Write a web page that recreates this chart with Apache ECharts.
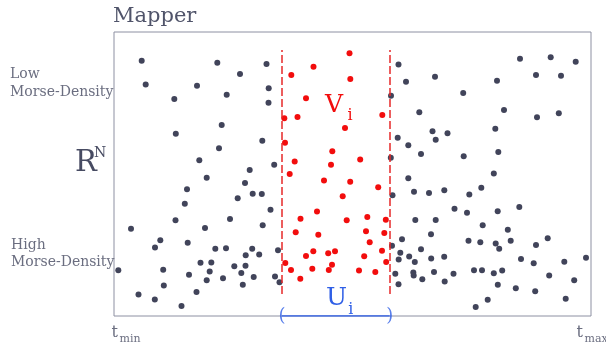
<!DOCTYPE html>
<html>
<head>
<meta charset="utf-8">
<title>Mapper</title>
<script src="https://cdn.jsdelivr.net/npm/echarts@6/dist/echarts.min.js"></script>
<style>
  html, body { margin: 0; padding: 0; background: #ffffff; }
  #chart { width: 606px; height: 347px; }
</style>
</head>
<body>
<div id="chart"></div>
<script>
// Filter value t along the horizontal axis, vertical position = Morse density (high at bottom).
const tRange = [0, 477];
const densityRange = [0, 284];

// Cover interval U_i on the t axis and the vertical extent of its pull-back V_i.
const intervalU = [168, 275.7];
const bandV = [22, 266];

// Axis end labels.
const tickLabels = ['t', 't'];
const tickSubs = ['min', 'max'];

// Points outside the pre-image of U_i  [t, density]
const outsidePoints = [
  [27.7, 255.3], [103.3, 253.3], [152.5, 252], [126, 242], [31.7, 231.5], [83, 230.3],
  [154.7, 227.7], [60.3, 217], [112.7, 221.3], [154.5, 213.3], [107.7, 191], [61.8, 182.3],
  [148.3, 175.3], [105, 167.8], [85.3, 155.8], [135.7, 146], [160.2, 151.3],
  [92.7, 138.3], [131, 133], [73, 126.7], [138.7, 122.3], [147.8, 122], [123.7, 117.7],
  [70.8, 112.2], [156.5, 106.3], [61.5, 95.8], [116, 97], [91, 88], [148.7, 90.7],
  [17, 87.2], [46.3, 75.7], [41, 68.5], [73.7, 73.3], [101.3, 67.3], [112, 67.7],
  [138.2, 67.3], [131.7, 60.8], [145.2, 61.5], [164, 65.7], [86.5, 53.3], [97.3, 53.5],
  [120.3, 49.8], [131.5, 50.3], [4.3, 45.7], [49.2, 46.3], [95.7, 44.5], [127.3, 43],
  [75, 41.2], [92.7, 35.7], [109, 37.7], [139.7, 39], [161, 39.4], [165.5, 33.7],
  [49.8, 30.5], [128.8, 31.3], [82.5, 24], [24.5, 21.5], [40.8, 16.5], [67.5, 10],
  [284.5, 251.5], [292, 234.2], [321, 239.3], [277, 220.3], [349.2, 223], [305.3, 203.7],
  [283.7, 178.3], [294.3, 170.8], [318.5, 184.8], [321.7, 176.3], [333.5, 182.8], [307, 162],
  [276.8, 158.2], [349.7, 159.7], [381.3, 187.3], [384.3, 164], [390, 206], [383, 235.3],
  [406, 257.2], [436.7, 258.8], [461.7, 254.3], [422, 241], [447, 240.3], [423, 198.7],
  [444.8, 202.8], [379.8, 142.5],
  [294.3, 137.8], [300, 124.3], [315, 123], [278.5, 120.8], [330.3, 125.8], [355.3, 121.5],
  [367.3, 128.2], [340.5, 107.2], [353, 103.3], [383.7, 104.7], [405.3, 109], [301.3, 96],
  [321.7, 96], [368.7, 90.8], [393.8, 86.3], [317, 81.8], [278, 70.2], [288, 76.7],
  [307, 66.8], [286.3, 63.2], [284.7, 56.5], [295.2, 59.5], [300.8, 54], [317.2, 57.5],
  [330.2, 59.2], [354.5, 75.3], [366.3, 73.7], [381.7, 72.5], [385.2, 67.3], [396.7, 75.3],
  [422, 71], [433.7, 77.8], [281.3, 42.2], [299.3, 43.5], [299.7, 40.5], [308.3, 36.8],
  [320, 44], [339.5, 42.2], [330.7, 34.5], [284.5, 31.7], [360, 45.7], [368, 45.7],
  [379.8, 42.8], [388.2, 45.5], [407, 57], [419.7, 52.7], [450.3, 54.2], [472, 58.3],
  [435.2, 40.5], [460.2, 35.8], [383.8, 31.3], [401.8, 27.8], [421.2, 24.8], [451.7, 17.2],
  [373.7, 16.3], [361.7, 9]
];

// Points whose filter value falls in U_i (they form V_i)  [t, density]
const coverPoints = [
  [235.5, 262.7], [199.5, 249.2], [177.3, 241], [236.3, 237], [192, 217.7], [170.3, 197.7],
  [183.5, 199], [268.3, 201], [231, 188], [171, 173.3], [218.3, 164.8], [180.7, 154.5],
  [217, 151.3], [246.2, 156.5], [175.7, 142], [210, 135.5], [236.2, 134.3], [264.2, 128.8],
  [228.7, 119.8], [203, 104.5], [186.5, 97.3], [232.7, 95.7], [253.3, 99], [271.8, 96.2],
  [181.7, 83.7], [204.3, 81.3], [252, 84.7], [270.3, 83], [255.7, 73.8], [199.3, 64.8],
  [221, 64.8], [214.2, 62.8], [268, 65.2], [192, 60], [250.2, 59.7], [171.3, 53],
  [218, 51.3], [272.2, 54], [177, 46], [198.3, 47.2], [214.8, 46], [245, 45.5],
  [261.3, 44], [186.3, 37.2]
];

const serif = '"DejaVu Serif", "Liberation Serif", serif';
const grey = '#6b6e80';
const red = '#f20d0d';
const blue = '#2f5fe6';

const chart = echarts.init(document.getElementById('chart'), null, { renderer: 'canvas' });

function txt(text, x, y, size, color) {
  return {
    type: 'text', silent: true,
    style: { text: text, x: x, y: y, font: size + 'px ' + serif, fill: color,
      verticalAlign: 'middle', align: 'left' }
  };
}

const uEnds = [[intervalU[0], densityRange[0]], [intervalU[1], densityRange[0]]];

chart.setOption({
  animation: false,
  backgroundColor: '#ffffff',
  grid: {
    left: 114, top: 32, width: 477, height: 284,
    show: true, borderColor: '#8d90a2', borderWidth: 1, backgroundColor: 'transparent'
  },
  xAxis: {
    type: 'value', min: tRange[0], max: tRange[1],
    axisLine: { show: false }, axisTick: { show: false }, axisLabel: { show: false },
    splitLine: { show: false }
  },
  yAxis: {
    type: 'value', min: densityRange[0], max: densityRange[1],
    axisLine: { show: false }, axisTick: { show: false }, axisLabel: { show: false },
    splitLine: { show: false }
  },
  series: [
    {
      type: 'scatter', name: 'outside', data: outsidePoints,
      symbolSize: 6, itemStyle: { color: '#41445a', opacity: 1 }, z: 3
    },
    {
      type: 'scatter', name: 'V_i', data: coverPoints,
      symbolSize: 6, itemStyle: { color: red, opacity: 1 }, z: 4,
      markLine: {
        silent: true, symbol: 'none', label: { show: false },
        lineStyle: { color: '#e62828', width: 1.5, type: [8, 3] },
        data: [
          [{ coord: [intervalU[0], bandV[0]] }, { coord: [intervalU[0], bandV[1]] }],
          [{ coord: [intervalU[1], bandV[0]] }, { coord: [intervalU[1], bandV[1]] }]
        ]
      }
    },
    {
      // interval U_i drawn on the t axis
      type: 'line', name: 'U_i', data: uEnds,
      symbol: 'none', lineStyle: { color: blue, width: 1.5 }, z: 5
    },
    {
      // round brackets closing U_i
      type: 'scatter', name: 'U_i ends', data: uEnds,
      symbolSize: 1, itemStyle: { color: 'rgba(0,0,0,0)' }, z: 6, clip: false,
      label: {
        show: true, position: 'inside',
        formatter: function (p) { return p.dataIndex === 0 ? '(' : ')'; },
        fontFamily: serif, fontSize: 18, color: blue
      }
    }
  ],
  graphic: [
    txt('Mapper', 113, 16.5, 21, '#50546a'),
    txt('Low', 10, 74, 14, grey),
    txt('Morse-Density', 10, 92, 14, grey),
    txt('High', 11, 245, 14, grey),
    txt('Morse-Density', 11, 262.8, 14, grey),
    txt('R', 75, 163, 29, '#474b62'),
    txt('N', 94, 153, 14, '#474b62'),
    txt('V', 325, 105.5, 25, red),
    txt('i', 347.5, 115.5, 16, red),
    txt('U', 326, 298.2, 25, blue),
    txt('i', 348.3, 309.5, 16, blue),
    txt(tickLabels[0], 111.5, 333, 16, grey),
    txt(tickSubs[0], 119.5, 339, 11, grey),
    txt(tickLabels[1], 576.5, 333, 16, grey),
    txt(tickSubs[1], 584.5, 339, 11, grey)
  ]
});
</script>
</body>
</html>
